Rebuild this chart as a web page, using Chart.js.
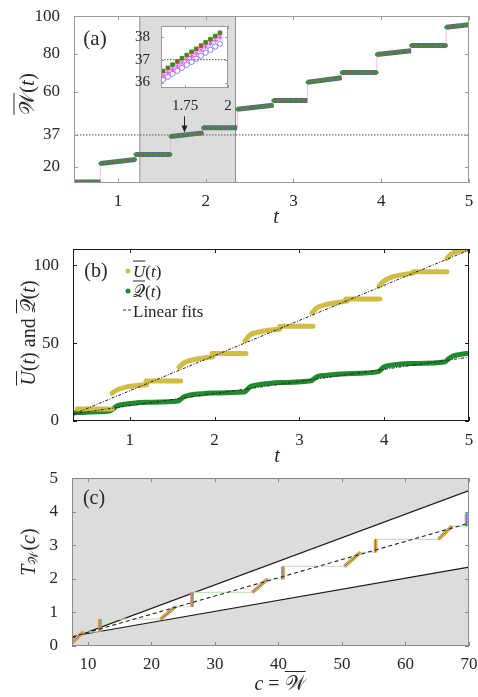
<!DOCTYPE html>
<html lang="en">
<head>
<meta charset="UTF-8">
<title>Mean work, energy and waiting time</title>
<script src="https://cdn.jsdelivr.net/npm/chart.js"></script>
<style>
  body { margin: 0; width: 478px; height: 697px; background: #fff; position: relative; overflow: hidden;
         font-family: 'Liberation Serif', serif; color: #262626; }
  canvas { position: absolute; }
  .lbl { position: absolute; transform: translate(-50%, -50%); white-space: nowrap; line-height: 1; }
  .rot { transform: translate(-50%, -50%) rotate(-90deg); }
  .lft { position: absolute; transform: translate(0, -50%); white-space: nowrap; line-height: 1; font-size: 17px; }
  .ol { text-decoration: overline; text-decoration-thickness: 1px; }
  .dot { position: absolute; width: 5px; height: 5px; border-radius: 50%; transform: translate(-50%, -50%); }
  sub { font-size: 65%; vertical-align: -0.25em; }
</style>
</head>
<body>
<canvas id="chart-a" width="478" height="228" style="left:0; top:0"></canvas>
<canvas id="chart-inset" width="110" height="100" style="left:130px; top:14px"></canvas>
<canvas id="chart-b" width="478" height="230" style="left:0; top:232px"></canvas>
<canvas id="chart-c" width="478" height="235" style="left:0; top:462px"></canvas>

<div class="lbl" style="left:95px; top:38px; font-size:21px">(a)</div>
<div class="lbl rot" style="left:27px; top:94px; font-size:21px"><span class="ol">𝒲</span>(<i>t</i>)</div>
<div class="lbl" style="left:276px; top:216px; font-size:20px"><i>t</i></div>

<div class="lbl" style="left:96px; top:270px; font-size:20px">(b)</div>
<div class="lbl rot" style="left:28px; top:333px; font-size:20px"><span class="ol"><i>U</i></span>(<i>t</i>) and <span class="ol">𝒬</span>(<i>t</i>)</div>
<div class="lbl" style="left:277px; top:455px; font-size:20px"><i>t</i></div>
<div class="dot" style="left:128px; top:271px; background:#d1bd45"></div>
<div class="lft" style="left:133px; top:271px"><span class="ol"><i>U</i></span>(<i>t</i>)</div>
<div class="dot" style="left:128px; top:291px; background:#1f8a2e"></div>
<div class="lft" style="left:133px; top:291px"><span class="ol">𝒬</span>(<i>t</i>)</div>
<div class="lft" style="left:123px; top:310px; width:8px; border-top:1px dashed #333"></div>
<div class="lft" style="left:133px; top:311px">Linear fits</div>

<div class="lbl" style="left:94px; top:497px; font-size:20px">(c)</div>
<div class="lbl rot" style="left:29px; top:552px; font-size:20px"><i>T</i><sub>𝒲</sub>(<i>c</i>)</div>
<div class="lbl" style="left:280px; top:683px; font-size:20px"><i>c</i> = <span class="ol">𝒲</span></div>

<script>
// ---- panel (a): mean work, one entry per plateau / ramp
const wSegT = [[0.5, 0.8], [0.8, 1.2], [1.2, 1.6], [1.6, 1.97], [1.97, 2.36], [2.36, 2.77],
               [2.77, 3.16], [3.16, 3.55], [3.55, 3.95], [3.95, 4.34], [4.34, 4.74], [4.74, 5.0]];
const wSegV = [[12, 12], [21.9, 24.0], [26.6, 26.6], [36.2, 38.1], [40.8, 40.8], [50.6, 52.7],
               [55.3, 55.3], [65.0, 67.3], [70.1, 70.1], [79.7, 81.7], [84.5, 84.5], [94.1, 95.5]];
const wRef = 37;
const shadeT = [1.25, 2.34];
const arrowT = 1.75, arrowFrom = 46.9, arrowTo = 38.3;
const aXTicks = [1, 2, 3, 4, 5];
const aYTicks = [20, 37, 60, 80, 100];

// ---- inset of (a)
const insT = [1.622, 1.650, 1.677, 1.705, 1.732, 1.760, 1.788, 1.815, 1.843, 1.870, 1.898, 1.926, 1.953];
const insGreen = [36.50, 36.64, 36.78, 36.92, 37.06, 37.20, 37.34, 37.47, 37.61, 37.75, 37.89, 38.03, 38.17];
const insMagenta = [36.30, 36.44, 36.58, 36.72, 36.86, 37.00, 37.14, 37.28, 37.42, 37.56, 37.70, 37.84, 37.98];
const insBlue = [36.12, 36.25, 36.38, 36.51, 36.64, 36.77, 36.90, 37.04, 37.17, 37.30, 37.43, 37.57, 37.70];
const insXTicks = [1.75, 2];
const insYTicks = [36, 37, 38];

// ---- panel (b): U(t) pieces (ramp, plateau, ...) and Q(t)
const uPieceT = [[0.38, 0.79], [0.79, 0.85, 0.95, 1.05, 1.2], [1.19, 1.6], [1.58, 1.63, 1.72, 1.85, 1.98],
                 [1.97, 2.37], [2.36, 2.41, 2.5, 2.63, 2.77], [2.77, 3.16], [3.15, 3.2, 3.3, 3.43, 3.56],
                 [3.55, 3.95], [3.94, 3.99, 4.08, 4.2, 4.34], [4.34, 4.74], [4.74, 4.79, 4.88, 5.0]];
const uPieceV = [[7.7, 7.7], [17.8, 20.0, 21.8, 22.6, 23.3], [25.7, 25.7], [34.5, 37.0, 39.0, 40.3, 41.3],
                 [43.4, 43.4], [51.5, 55.0, 57.0, 58.3, 59.0], [60.8, 60.8], [69.4, 72.5, 74.6, 76.0, 77.0],
                 [78.4, 78.4], [86.7, 89.7, 92.3, 93.9, 95.0], [95.9, 95.9], [104.5, 107.3, 109.2, 110.3]];
const qT = [0.33, 0.55, 0.77, 0.8, 0.84, 0.9, 1.0, 1.2, 1.57, 1.6, 1.64, 1.7, 1.8, 1.98, 2.35, 2.38, 2.42, 2.5,
            2.6, 2.77, 3.14, 3.17, 3.21, 3.3, 3.55, 3.93, 3.96, 4.0, 4.1, 4.3, 4.72, 4.75, 4.8, 4.9, 5.0];
const qV = [5.2, 5.8, 6.6, 7.6, 9.4, 10.5, 11.2, 12.0, 12.8, 14.0, 15.6, 16.5, 17.3, 18.0, 18.6, 20.0, 22.0, 23.2,
            23.9, 24.7, 25.8, 27.0, 28.6, 29.3, 30.4, 31.7, 33.0, 34.8, 36.0, 36.9, 38.1, 39.6, 41.5, 42.8, 43.6];
const fitT = [0.33, 5.0];
const uFit = [4.3, 109.8];
const qFit = [4.6, 41.0];
const bXTicks = [1, 2, 3, 4, 5];
const bYTicks = [0, 50, 100];

// ---- panel (c): waiting time vs threshold
const boundC = [7.5, 70];
const upperT = [0.24, 4.63];
const lowerT = [0.29, 2.35];
const meanT = [0.27, 3.66];
const stairC = [7.5, 9.3, 11.9, 11.9, 21.45, 23.8, 26.4, 26.4, 35.9, 38.3, 40.7, 40.7, 50.4, 52.9, 55.3, 55.3,
                65.2, 67.3, 69.6, 69.6, 70];
const stairT = [0.10, 0.42, 0.42, 0.80, 0.80, 1.17, 1.17, 1.60, 1.60, 1.99, 1.99, 2.37, 2.37, 2.79, 2.79, 3.18,
                3.18, 3.57, 3.57, 3.95, 3.95];
const cXTicks = [10, 20, 30, 40, 50, 60, 70];
const cYTicks = [0, 1, 2, 3, 4, 5];

const pts = (xs, ys) => xs.map((x, i) => ({ x: x, y: ys[i] }));
const gap = x => ({ x: x, y: null });

// box with inward tick marks on all four sides, like matlab "box on"
const boxTicks = {
    id: 'boxTicks',
    beforeDatasetsDraw(chart, args, opts) {
        if (!opts.bg) return;
        const a = chart.chartArea;
        chart.ctx.save();
        chart.ctx.fillStyle = opts.bg;
        chart.ctx.fillRect(a.left, a.top, a.width, a.height);
        chart.ctx.restore();
    },
    afterDatasetsDraw(chart, args, opts) {
        const ctx = chart.ctx, a = chart.chartArea, x = chart.scales.x, y = chart.scales.y;
        const len = opts.len || 4;
        ctx.save();
        ctx.strokeStyle = opts.color || '#262626';
        ctx.lineWidth = 1;
        ctx.beginPath();
        x.ticks.forEach(t => {
            const px = Math.round(x.getPixelForValue(t.value)) + 0.5;
            ctx.moveTo(px, a.bottom); ctx.lineTo(px, a.bottom - len);
            ctx.moveTo(px, a.top); ctx.lineTo(px, a.top + len);
        });
        y.ticks.forEach(t => {
            const py = Math.round(y.getPixelForValue(t.value)) + 0.5;
            ctx.moveTo(a.left, py); ctx.lineTo(a.left + len, py);
            ctx.moveTo(a.right, py); ctx.lineTo(a.right - len, py);
        });
        ctx.stroke();
        ctx.strokeRect(Math.round(a.left) + 0.5, Math.round(a.top) + 0.5, Math.round(a.width) - 1, Math.round(a.height) - 1);
        ctx.restore();
    }
};

// the arrow pointing at the zoomed part of panel (a)
const arrowPlugin = {
    id: 'arrow',
    afterDatasetsDraw(chart) {
        const ctx = chart.ctx, x = chart.scales.x, y = chart.scales.y;
        const px = Math.round(x.getPixelForValue(arrowT)) + 0.5;
        const y0 = y.getPixelForValue(arrowFrom), y1 = y.getPixelForValue(arrowTo);
        ctx.save();
        ctx.strokeStyle = '#222';
        ctx.fillStyle = '#222';
        ctx.lineWidth = 1;
        ctx.beginPath();
        ctx.moveTo(px, y0); ctx.lineTo(px, y1 - 5);
        ctx.stroke();
        ctx.beginPath();
        ctx.moveTo(px, y1); ctx.lineTo(px - 3, y1 - 7); ctx.lineTo(px + 3, y1 - 7);
        ctx.closePath();
        ctx.fill();
        ctx.restore();
    }
};

Chart.register(boxTicks);
Chart.defaults.font.family = "'Liberation Serif', serif";
Chart.defaults.color = '#262626';

const tickText = v => String(+v.toFixed(2));

function frameOptions(f) {
    return {
        responsive: false,
        animation: false,
        devicePixelRatio: 1,
        layout: { padding: { top: f.top, right: f.right, left: 0, bottom: 0 } },
        plugins: {
            legend: { display: false },
            tooltip: { enabled: false },
            boxTicks: { color: f.boxColor, bg: f.bg, len: f.len || 4 }
        },
        scales: {
            x: {
                type: 'linear', min: f.xMin, max: f.xMax,
                grid: { display: false }, border: { display: false },
                ticks: { padding: f.xPad, maxRotation: 0, autoSkip: false, font: { size: f.fs }, callback: tickText },
                afterBuildTicks: s => { s.ticks = f.xTicks.map(v => ({ value: v })); },
                afterFit: s => { s.height = f.xH; }
            },
            y: {
                type: 'linear', min: f.yMin, max: f.yMax,
                grid: { display: false }, border: { display: false },
                ticks: { padding: f.yPad, autoSkip: false, font: { size: f.fs }, callback: tickText },
                afterBuildTicks: s => { s.ticks = f.yTicks.map(v => ({ value: v })); },
                afterFit: s => { s.width = f.yW; }
            }
        }
    };
}

// ---------- panel (a)
const wBand = [];
const wPath = [];
wSegT.forEach((seg, i) => {
    wBand.push({ x: seg[0], y: wSegV[i][0] }, { x: seg[1], y: wSegV[i][1] }, gap(seg[1]));
    wPath.push({ x: seg[0], y: wSegV[i][0] }, { x: seg[1], y: wSegV[i][1] });
});
const yMinA = 11.5;

new Chart(document.getElementById('chart-a'), {
    type: 'scatter',
    data: {
        datasets: [
            { data: wBand, showLine: true, spanGaps: false, pointRadius: 0, borderColor: '#d23c3c',
              borderWidth: 2, borderDash: [0, 5], borderDashOffset: 2.5, borderCapStyle: 'round', order: 0 },
            { data: wBand, showLine: true, spanGaps: false, pointRadius: 0, borderColor: '#2f9a3a',
              borderWidth: 4, borderDash: [0, 5], borderCapStyle: 'round', order: 1 },
            { data: wBand, showLine: true, spanGaps: false, pointRadius: 0, borderColor: '#5d6690',
              borderWidth: 5, order: 2 },
            { data: wPath, showLine: true, pointRadius: 0, borderColor: '#ff99ff', borderWidth: 0.7, order: 3 },
            { data: pts([0.5, 5], [wRef, wRef]), showLine: true, pointRadius: 0, borderColor: '#555',
              borderWidth: 1, borderDash: [1.5, 1.5], order: 4 },
            { data: pts([shadeT[0], shadeT[0], shadeT[1], shadeT[1]], [yMinA, 100, 100, yMinA]), showLine: true,
              pointRadius: 0, borderColor: '#8f8f8f', borderWidth: 1, backgroundColor: '#dcdcdc',
              fill: 'start', order: 10 }
        ]
    },
    options: frameOptions({ top: 13, right: 9, xMin: 0.5, xMax: 5, yMin: yMinA, yMax: 100, xTicks: aXTicks,
                            yTicks: aYTicks, xH: 45, yW: 74, xPad: 0, yPad: 6, fs: 17, boxColor: '#9a9a9a' }),
    plugins: [arrowPlugin]
});

// ---------- inset
new Chart(document.getElementById('chart-inset'), {
    type: 'scatter',
    data: {
        datasets: [
            { data: pts(insT, insGreen), pointStyle: 'crossRot', pointRadius: 1.6, borderColor: '#e03030',
              borderWidth: 1.2, order: 0 },
            { data: pts(insT, insGreen), pointStyle: 'rect', pointRadius: 2.6, backgroundColor: '#22a022',
              borderColor: '#22a022', order: 1 },
            { data: pts(insT, insMagenta), pointStyle: 'star', pointRadius: 2.8, borderColor: '#ff55ff',
              borderWidth: 1, order: 2 },
            { data: pts(insT, insBlue), pointStyle: 'circle', pointRadius: 2.6, backgroundColor: 'transparent',
              borderColor: '#7a7ae8', borderWidth: 0.9, order: 3 },
            { data: pts([1.61, 2.0], [wRef, wRef]), showLine: true, pointRadius: 0, borderColor: '#555',
              borderWidth: 1, borderDash: [1.5, 1.5], order: 4 }
        ]
    },
    options: frameOptions({ top: 12, right: 12, xMin: 1.61, xMax: 2.0, yMin: 35.76, yMax: 38.47, xTicks: insXTicks,
                            yTicks: insYTicks, xH: 26, yW: 31, xPad: 1, yPad: 3, fs: 15, boxColor: '#9a9a9a',
                            bg: '#ffffff', len: 3 })
});

// ---------- panel (b)
const uData = [];
uPieceT.forEach((piece, i) => {
    piece.forEach((t, j) => uData.push({ x: t, y: uPieceV[i][j] }));
    uData.push(gap(piece[piece.length - 1]));
});

new Chart(document.getElementById('chart-b'), {
    type: 'scatter',
    data: {
        datasets: [
            { data: pts(fitT, uFit), showLine: true, pointRadius: 0, borderColor: '#222', borderWidth: 1,
              borderDash: [3, 1.5, 1, 1.5], order: 0 },
            { data: pts(fitT, qFit), showLine: true, pointRadius: 0, borderColor: '#222', borderWidth: 1,
              borderDash: [3, 1.5, 1, 1.5], order: 0 },
            { data: uData, showLine: true, spanGaps: false, pointRadius: 0, borderColor: '#d1bd45',
              borderWidth: 5, borderCapStyle: 'round', cubicInterpolationMode: 'monotone', order: 1 },
            { data: pts(qT, qV), showLine: true, pointRadius: 0, borderColor: '#1f8a2e', borderWidth: 5,
              borderCapStyle: 'round', cubicInterpolationMode: 'monotone', order: 2 }
        ]
    },
    options: frameOptions({ top: 17, right: 9, xMin: 0.33, xMax: 5, yMin: 0, yMax: 110.5, xTicks: bXTicks,
                            yTicks: bYTicks, xH: 41, yW: 73, xPad: 1, yPad: 6, fs: 17, boxColor: '#1a1a1a' })
});

// ---------- panel (c)
const jumps = [];
for (let i = 0; i + 1 < stairC.length; i += 2) {
    jumps.push({ x: stairC[i], y: stairT[i] }, { x: stairC[i + 1], y: stairT[i + 1] }, gap(stairC[i + 1]));
}

new Chart(document.getElementById('chart-c'), {
    type: 'scatter',
    data: {
        datasets: [
            { data: pts(boundC, meanT), showLine: true, pointRadius: 0, borderColor: '#222', borderWidth: 1.1,
              borderDash: [4, 3], order: 0 },
            { data: jumps, showLine: true, spanGaps: false, pointRadius: 0, borderColor: '#4f6fd0',
              borderWidth: 1, order: 1 },
            { data: jumps, showLine: true, spanGaps: false, pointRadius: 0, borderColor: '#e8c33a',
              borderWidth: 2.4, order: 2 },
            { data: jumps, showLine: true, spanGaps: false, pointRadius: 0, borderColor: '#e0783a',
              borderWidth: 3.6, order: 3 },
            { data: pts(stairC, stairT), showLine: true, pointRadius: 0, borderColor: '#c9e3bf',
              borderWidth: 1.2, order: 4 },
            { data: pts(boundC, upperT), showLine: true, pointRadius: 0, borderColor: '#1a1a1a', borderWidth: 1.2,
              backgroundColor: '#dcdcdc', fill: 'end', order: 5 },
            { data: pts(boundC, lowerT), showLine: true, pointRadius: 0, borderColor: '#1a1a1a', borderWidth: 1.2,
              backgroundColor: '#dcdcdc', fill: 'start', order: 6 }
        ]
    },
    options: frameOptions({ top: 11, right: 9, xMin: 7.5, xMax: 70, yMin: 0, yMax: 5, xTicks: cXTicks,
                            yTicks: cYTicks, xH: 51, yW: 72, xPad: 0, yPad: 6, fs: 17, boxColor: '#8a8a8a' })
});
</script>
</body>
</html>
